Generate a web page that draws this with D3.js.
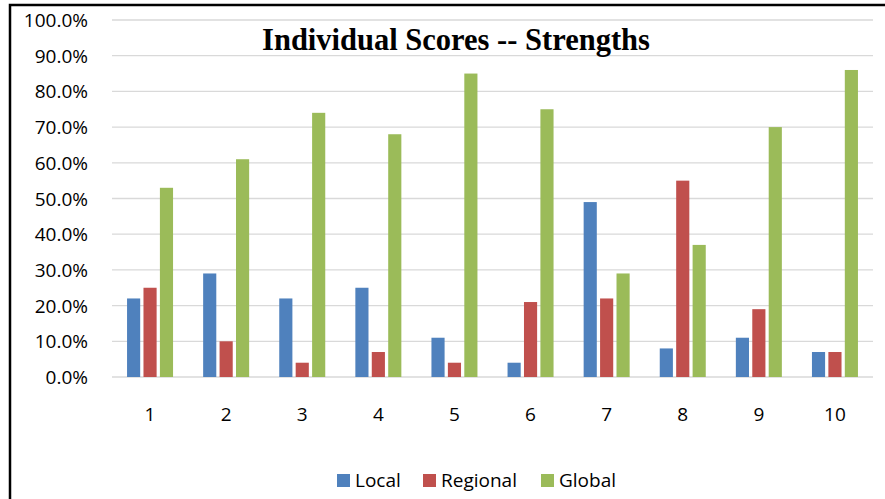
<!DOCTYPE html>
<html lang="en">
<head>
    <meta charset="UTF-8">
    <title>Individual Scores -- Strengths</title>
    <script src="https://cdn.jsdelivr.net/npm/d3@7"></script>
    <style>
        body { margin: 0; background: #fff; }
        text { font-family: "Open Sans", "Noto Sans", sans-serif; }
    </style>
</head>
<body>
<div id="chart"></div>
<script>
    // chart data
    var categories = ["1", "2", "3", "4", "5", "6", "7", "8", "9", "10"];
    var seriesNames = ["Local", "Regional", "Global"];
    var local    = [0.22, 0.29, 0.22, 0.25, 0.11, 0.04, 0.49, 0.08, 0.11, 0.07];
    var regional = [0.25, 0.10, 0.04, 0.07, 0.04, 0.21, 0.22, 0.55, 0.19, 0.07];
    var global   = [0.53, 0.61, 0.74, 0.68, 0.85, 0.75, 0.29, 0.37, 0.70, 0.86];
    var yTicks = [0, 0.1, 0.2, 0.3, 0.4, 0.5, 0.6, 0.7, 0.8, 0.9, 1.0];
    var colors = ["#4F81BD", "#C0504D", "#9BBB59"];

    var width = 885, height = 499;
    // plot area edges
    var plotLeft = 112, plotRight = 873, plotTop = 20, plotBottom = 377;

    var svg = d3.select("#chart").append("svg")
        .attr("width", width)
        .attr("height", height);

    // outer frame
    svg.append("rect")
        .attr("x", 10).attr("y", 5)
        .attr("width", 900).attr("height", 520)
        .attr("fill", "none")
        .attr("stroke", "#000")
        .attr("stroke-width", 2.5);

    var x = d3.scaleBand().domain(categories).range([plotLeft, plotRight]);
    var groupW = 46;
    var xInner = d3.scaleBand().domain(seriesNames).range([0, groupW]).paddingInner(0.2);
    var y = d3.scaleLinear().domain([0, 1]).range([plotBottom, plotTop]);

    // gridlines
    svg.append("g").selectAll("line")
        .data(yTicks)
        .join("line")
        .attr("x1", plotLeft).attr("x2", plotRight)
        .attr("y1", function(d) { return y(d); })
        .attr("y2", function(d) { return y(d); })
        .attr("stroke", "#D9D9D9")
        .attr("stroke-width", 1.3);

    // y axis labels
    svg.append("g").selectAll("text")
        .data(yTicks)
        .join("text")
        .attr("x", 88)
        .attr("y", function(d) { return y(d) + 7; })
        .attr("text-anchor", "end")
        .attr("font-size", 19)
        .attr("fill", "#000")
        .text(function(d) { return d3.format(".1%")(d); });

    // bars
    var table = categories.map(function(c, i) {
        return { cat: c, values: [local[i], regional[i], global[i]] };
    });
    var groups = svg.append("g").selectAll("g")
        .data(table)
        .join("g")
        .attr("transform", function(d) {
            return "translate(" + (x(d.cat) + x.bandwidth() / 2 - groupW / 2) + ",0)";
        });
    groups.selectAll("rect")
        .data(function(d) {
            return d.values.map(function(v, j) { return { name: seriesNames[j], v: v, j: j }; });
        })
        .join("rect")
        .attr("x", function(d) { return xInner(d.name); })
        .attr("width", xInner.bandwidth())
        .attr("y", function(d) { return y(d.v); })
        .attr("height", function(d) { return plotBottom - y(d.v); })
        .attr("fill", function(d) { return colors[d.j]; });

    // category labels
    svg.append("g").selectAll("text")
        .data(categories)
        .join("text")
        .attr("x", function(d) { return x(d) + x.bandwidth() / 2; })
        .attr("y", 421)
        .attr("text-anchor", "middle")
        .attr("font-size", 19)
        .text(function(d) { return d; });

    // title
    svg.append("text")
        .attr("x", 456)
        .attr("y", 50)
        .attr("text-anchor", "middle")
        .attr("font-weight", "bold")
        .attr("font-size", 30.5)
        .style("font-family", "'Liberation Serif', 'DejaVu Serif', serif")
        .text("Individual Scores -- Strengths");

    // legend
    var legendX = [337, 423, 541];
    var legend = svg.append("g").selectAll("g")
        .data(seriesNames)
        .join("g")
        .attr("transform", function(d, i) { return "translate(" + legendX[i] + ",474)"; });
    legend.append("rect")
        .attr("width", 13).attr("height", 13)
        .attr("fill", function(d, i) { return colors[i]; });
    legend.append("text")
        .attr("x", 18).attr("y", 13)
        .attr("font-size", 19)
        .text(function(d) { return d; });
</script>
</body>
</html>
